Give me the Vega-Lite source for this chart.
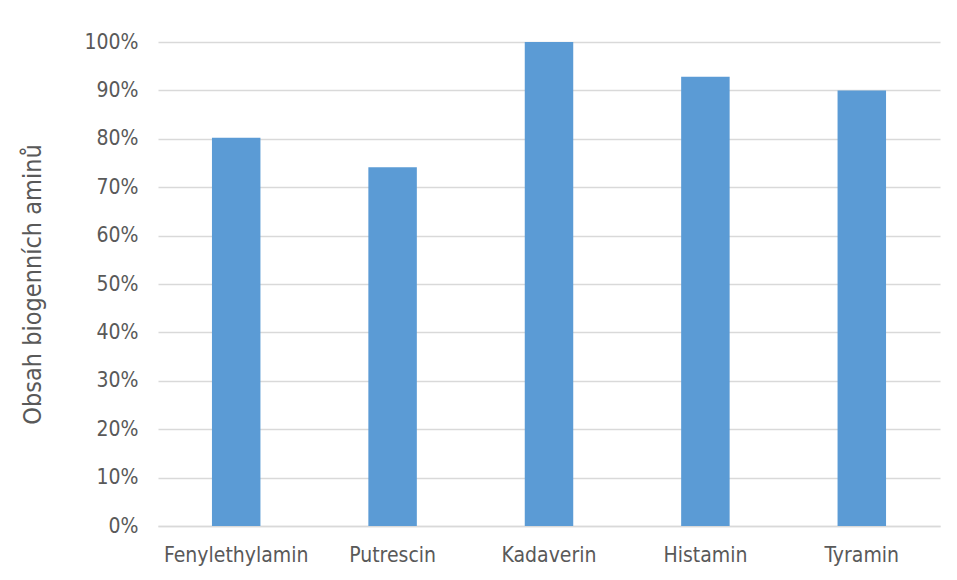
{
  "$schema": "https://vega.github.io/schema/vega-lite/v6.json",
  "autosize": "none",
  "width": 782,
  "height": 484,
  "padding": {"left": 158, "top": 42, "right": 17, "bottom": 54},
  "background": "white",
  "config": {"view": {"stroke": null}, "font": "Liberation Sans Narrow, DejaVu Sans Condensed, Roboto"},
  "data": {"values": [
    {"amin": "Fenylethylamin", "obsah": 0.802},
    {"amin": "Putrescin", "obsah": 0.741},
    {"amin": "Kadaverin", "obsah": 1.0},
    {"amin": "Histamin", "obsah": 0.928},
    {"amin": "Tyramin", "obsah": 0.9}
  ]},
  "mark": {"type": "bar", "color": "#5b9bd5"},
  "encoding": {
    "x": {
      "field": "amin", "type": "nominal", "sort": null,
      "scale": {"paddingInner": 0.69, "paddingOuter": 0.345},
      "axis": {"title": null, "labelAngle": 0, "labelFontSize": 21, "labelColor": "#595959", "labelPadding": 18, "ticks": false, "domainColor": "#d9d9d9", "domainWidth": 1.5}
    },
    "y": {
      "field": "obsah", "type": "quantitative",
      "scale": {"domain": [0, 1], "nice": false},
      "axis": {"title": "Obsah biogenních aminů", "format": ".0%", "values": [0, 0.1, 0.2, 0.3, 0.4, 0.5, 0.6, 0.7, 0.8, 0.9, 1], "labelOverlap": false, "labelFontSize": 21, "labelColor": "#595959", "labelPadding": 20, "ticks": false, "domain": false, "gridColor": "#d9d9d9", "gridWidth": 1.5, "titleFontSize": 25, "titleColor": "#595959", "titleFontWeight": "normal", "titlePadding": 38}
    }
  }
}
